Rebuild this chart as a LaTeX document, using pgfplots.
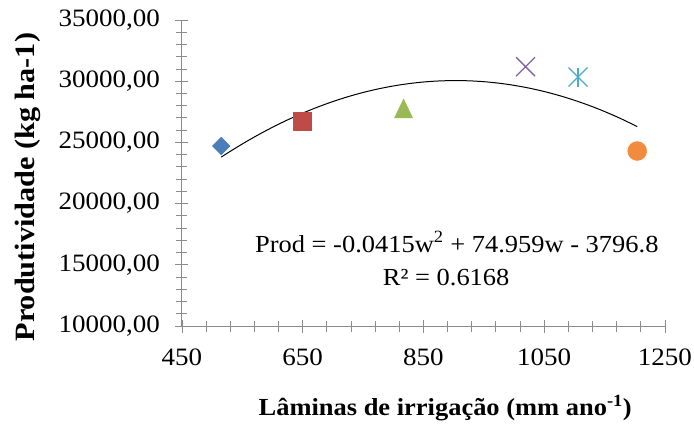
\documentclass[border=0pt]{standalone}
\usepackage{fontspec}
\setmainfont{Liberation Serif}[FakeStretch=1.08]
\usepackage{pgfplots}
\pgfplotsset{compat=1.18}

\definecolor{axgray}{HTML}{8C8C8C}
\definecolor{cA}{HTML}{4A7EBB}
\definecolor{cB}{HTML}{BE4B48}
\definecolor{cC}{HTML}{98B954}
\definecolor{cD}{HTML}{8064A2}
\definecolor{cE}{HTML}{4BACC6}
\definecolor{cF}{HTML}{F18C3F}

\begin{document}
\begin{tikzpicture}
\path[use as bounding box] (-182pt,-98pt) rectangle (512pt,326pt);
\begin{axis}[
  at={(0,0)}, anchor=south west,
  width=483pt, height=306pt, scale only axis,
  xmin=450, xmax=1250, ymin=10000, ymax=35000,
  axis lines=left,
  axis line style={-, draw=axgray, line width=1pt},
  xtick={450,650,850,1050,1250},
  ytick={10000,15000,20000,25000,30000,35000},
  minor x tick num=4, minor y tick num=4,
  tick align=center,
  major tick length=13pt, minor tick length=11pt,
  every tick/.style={axgray, line width=0.9pt},
  scaled ticks=false,
  /pgf/number format/assume math mode=true,
  tick label style={font=\fontsize{25}{29}\selectfont},
  yticklabel style={xshift=-12pt, /pgf/number format/.cd, fixed, fixed zerofill, precision=2, use comma, 1000 sep={}},
  xticklabel style={yshift=-13pt, /pgf/number format/.cd, fixed, precision=0, 1000 sep={}},
  xlabel={Lâminas de irrigação (mm ano\textsuperscript{-1})},
  xlabel style={font=\bfseries\fontsize{24.5}{28}\selectfont,
    at={(axis description cs:0.545,-0.268)}, anchor=center},
  ylabel={Produtividade (kg ha-1)},
  ylabel style={font=\bfseries\fontsize{28}{32}\selectfont,
    at={(axis description cs:-0.319,0.454)}, anchor=center},
  clip=false,
]
% trend line
\addplot[black, line width=1pt, smooth, no marks] coordinates {
  (515,23800) (525,24118) (550,24877) (575,25584) (600,26239) (625,26842)
  (650,27393) (675,27892) (700,28340) (725,28735) (750,29079) (775,29371)
  (800,29610) (825,29798) (850,29935) (875,30019) (900,30051) (925,30032)
  (950,29961) (975,29837) (1000,29662) (1025,29435) (1050,29156) (1075,28826)
  (1100,28443) (1125,28009) (1150,27522) (1175,26984) (1204,26295)};
% observed points
\addplot[only marks, mark=square*, mark size=6.2pt, color=cA, mark options={rotate=45}] coordinates {(515,24706)};
\addplot[only marks, mark=square*, mark size=9pt, color=cB] coordinates {(649,26773)};
\addplot[only marks, mark=triangle*, mark size=10.5pt, color=cC, mark options={yscale=1.2, yshift=-3pt}] coordinates {(817,27810)};
\addplot[only marks, mark=x, mark size=13.4pt, color=cD, mark options={line width=1.3pt}] coordinates {(1019,31185)};
\addplot[only marks, mark=x, mark size=13.4pt, color=cE, mark options={line width=1.3pt}] coordinates {(1106,30343)};
\addplot[only marks, mark=|, mark size=9.5pt, color=cE, mark options={line width=1.3pt}] coordinates {(1106,30343)};
\addplot[only marks, mark=*, mark size=9.5pt, color=cF] coordinates {(1204,24297)};

\node[font=\fontsize{24.5}{28}\selectfont] at (axis description cs:0.569,0.2745)
  {Prod = -0.0415w\textsuperscript{2} + 74.959w - 3796.8};
\node[font=\fontsize{24.5}{28}\selectfont] at (axis description cs:0.547,0.160)
  {R² = 0.6168};
\end{axis}
\end{tikzpicture}
\end{document}
